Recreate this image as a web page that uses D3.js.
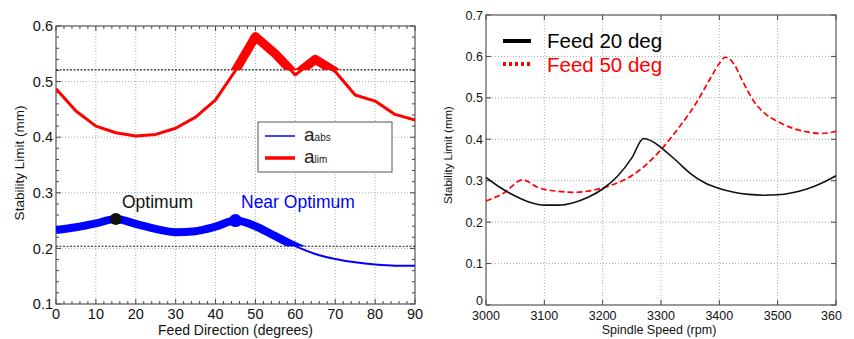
<!DOCTYPE html>
<html>
<head>
<meta charset="utf-8">
<script src="https://cdn.jsdelivr.net/npm/d3@7"></script>
<style>
  body { margin: 0; background: #fff; }
  text { font-family: "Liberation Sans", Arial, sans-serif; }
  .grid line { stroke: #aaa; stroke-dasharray: 1,2; stroke-width: 1; }
</style>
</head>
<body>
<svg id="chart" width="854" height="339"></svg>
<script>
// ---- left panel: stability limit vs feed direction
let feedDirs = [0, 5, 10, 15, 20, 25, 30, 35, 40, 45, 50, 55, 60, 65, 70, 75, 80, 85, 90];
let aLim = [0.487, 0.447, 0.420, 0.408, 0.402, 0.405, 0.416, 0.436, 0.467, 0.520, 0.581, 0.550, 0.512, 0.540, 0.518, 0.476, 0.465, 0.441, 0.431];
let aAbs = [0.233, 0.238, 0.245, 0.253, 0.244, 0.235, 0.229, 0.231, 0.239, 0.250, 0.240, 0.222, 0.204, 0.190, 0.181, 0.175, 0.171, 0.169, 0.169];
let limThreshold = 0.521;
let absThreshold = 0.204;
let optimum = {x: 15, y: 0.253, label: 'Optimum'};
let nearOptimum = {x: 45, y: 0.250, label: 'Near Optimum'};
let leftXTicks = [0, 10, 20, 30, 40, 50, 60, 70, 80, 90];
let leftYTicks = [0.1, 0.2, 0.3, 0.4, 0.5, 0.6];

// ---- right panel: stability limit vs spindle speed
let speeds20 = [3000, 3025, 3050, 3075, 3100, 3125, 3150, 3175, 3200, 3225, 3250, 3270, 3285, 3300, 3325, 3350, 3375, 3400, 3425, 3450, 3475, 3500, 3525, 3550, 3575, 3600];
let feed20 = [0.308, 0.283, 0.263, 0.248, 0.241, 0.241, 0.247, 0.260, 0.280, 0.310, 0.355, 0.402, 0.395, 0.380, 0.350, 0.318, 0.295, 0.281, 0.272, 0.267, 0.265, 0.266, 0.271, 0.280, 0.294, 0.312];
let speeds50 = [3000, 3030, 3063, 3090, 3120, 3150, 3180, 3210, 3240, 3270, 3300, 3330, 3360, 3385, 3400, 3410, 3425, 3440, 3460, 3480, 3500, 3525, 3550, 3575, 3600];
let feed50 = [0.251, 0.270, 0.302, 0.283, 0.275, 0.272, 0.276, 0.287, 0.304, 0.333, 0.375, 0.427, 0.487, 0.548, 0.583, 0.598, 0.582, 0.540, 0.490, 0.460, 0.443, 0.427, 0.418, 0.414, 0.419];
let rightXTicks = [3000, 3100, 3200, 3300, 3400, 3500, 3600];
let rightYTicks = [0, 0.1, 0.2, 0.3, 0.4, 0.5, 0.6, 0.7];

let svg = d3.select('#chart');
let defs = svg.append('defs');

function drawFrame(g, x, y, xt, yt, opts) {
  let [x0, x1] = x.range();
  let [y0, y1] = y.range();
  let grid = g.append('g').classed('grid', true);
  grid.selectAll('.vx').data(xt.slice(1, -1)).enter().append('line')
    .attr('x1', d => x(d)).attr('x2', d => x(d)).attr('y1', y0).attr('y2', y1);
  grid.selectAll('.hy').data(yt.slice(1, -1)).enter().append('line')
    .attr('y1', d => y(d)).attr('y2', d => y(d)).attr('x1', x0).attr('x2', x1);

  // inward ticks on all four sides
  let tk = g.append('g').attr('stroke', '#444').attr('stroke-width', 1);
  let mk = (vals, len) => {
    tk.selectAll(null).data(vals).enter().append('line')
      .attr('x1', d => x(d)).attr('x2', d => x(d)).attr('y1', y0).attr('y2', y0 - len);
    tk.selectAll(null).data(vals).enter().append('line')
      .attr('x1', d => x(d)).attr('x2', d => x(d)).attr('y1', y1).attr('y2', y1 + len);
  };
  let mky = (vals, len) => {
    tk.selectAll(null).data(vals).enter().append('line')
      .attr('y1', d => y(d)).attr('y2', d => y(d)).attr('x1', x0).attr('x2', x0 + len);
    tk.selectAll(null).data(vals).enter().append('line')
      .attr('y1', d => y(d)).attr('y2', d => y(d)).attr('x1', x1).attr('x2', x1 - len);
  };
  mk(xt, opts.tickLen); mky(yt, opts.tickLen);
  if (opts.minorX) mk(opts.minorX, opts.tickLen * 0.6);
  if (opts.minorY) mky(opts.minorY, opts.tickLen * 0.6);

  g.append('rect').attr('x', x0).attr('y', y1).attr('width', x1 - x0).attr('height', y0 - y1)
    .attr('fill', 'none').attr('stroke', '#555').attr('stroke-width', 1.2);

  g.selectAll(null).data(xt).enter().append('text')
    .classed('xtick', true)
    .attr('x', d => x(d)).attr('y', opts.xLabelY)
    .attr('text-anchor', 'middle').attr('font-size', opts.fsx).attr('fill', '#111')
    .text(opts.xfmt);
  g.selectAll(null).data(yt).enter().append('text')
    .classed('ytick', true)
    .attr('x', x0 - 3).attr('y', d => y(d) + opts.fsy * 0.36)
    .attr('text-anchor', 'end').attr('font-size', opts.fsy).attr('fill', '#111')
    .text(opts.yfmt);
}

// ===== left panel =====
let xL = d3.scaleLinear().domain([0, 90]).range([56, 415]);
let yL = d3.scaleLinear().domain([0.1, 0.6]).range([304, 26]);
let gL = svg.append('g');
drawFrame(gL, xL, yL, leftXTicks, leftYTicks, {
  tickLen: 5, fsx: 14.5, fsy: 14.5, xLabelY: 319,
  minorX: d3.range(0, 91, 2).filter(v => v % 10),
  minorY: d3.range(0, 26).map(i => 0.1 + i * 0.02).filter((v, i) => i % 5),
  xfmt: d => d, yfmt: d3.format('.1f')
});

// threshold lines
gL.selectAll(null).data([limThreshold, absThreshold]).enter().append('line')
  .attr('x1', xL(0)).attr('x2', xL(90)).attr('y1', d => yL(d)).attr('y2', d => yL(d))
  .attr('stroke', '#222').attr('stroke-width', 1.1).attr('stroke-dasharray', '2,1.5');

// clips: thick segments above each threshold
defs.append('clipPath').attr('id', 'clipLim').append('rect')
  .attr('x', xL(0)).attr('width', xL(90) - xL(0)).attr('y', yL(0.6) - 10).attr('height', yL(limThreshold) - yL(0.6) + 10);
defs.append('clipPath').attr('id', 'clipAbs').append('rect')
  .attr('x', xL(0)).attr('width', xL(90) - xL(0)).attr('y', yL(0.6)).attr('height', yL(absThreshold) - yL(0.6));
defs.append('clipPath').attr('id', 'clipL').append('rect')
  .attr('x', xL(0)).attr('width', xL(90) - xL(0)).attr('y', yL(0.6) - 10).attr('height', yL(0.1) - yL(0.6) + 10);

let limLine = d3.line().x((d, i) => xL(feedDirs[i])).y(d => yL(d));
let absLine = d3.line().x((d, i) => xL(feedDirs[i])).y(d => yL(d)).curve(d3.curveMonotoneX);

gL.append('path').attr('d', limLine(aLim)).attr('fill', 'none').attr('stroke', '#f00')
  .attr('stroke-width', 3).attr('stroke-linejoin', 'round').attr('clip-path', 'url(#clipL)');
gL.append('path').attr('d', limLine(aLim)).attr('fill', 'none').attr('stroke', '#f00')
  .attr('stroke-width', 9).attr('stroke-linejoin', 'round').attr('clip-path', 'url(#clipLim)');
gL.append('path').attr('d', absLine(aAbs)).attr('fill', 'none').attr('stroke', '#00f')
  .attr('stroke-width', 2).attr('clip-path', 'url(#clipL)');
gL.append('path').attr('d', absLine(aAbs)).attr('fill', 'none').attr('stroke', '#00f')
  .attr('stroke-width', 8).attr('clip-path', 'url(#clipAbs)');

gL.append('circle').attr('cx', xL(optimum.x)).attr('cy', yL(optimum.y)).attr('r', 6).attr('fill', '#111');
gL.append('circle').attr('cx', xL(nearOptimum.x)).attr('cy', yL(nearOptimum.y)).attr('r', 6.5).attr('fill', '#00f');
gL.append('text').attr('x', 122).attr('y', 208).attr('font-size', 17.5).attr('fill', '#111').text(optimum.label);
gL.append('text').attr('x', 241).attr('y', 208).attr('font-size', 17.5).attr('fill', '#00f').text(nearOptimum.label);

// legend
let legL = gL.append('g');
legL.append('rect').attr('x', 258).attr('y', 122).attr('width', 134).attr('height', 50)
  .attr('fill', '#fff').attr('stroke', '#555').attr('stroke-width', 1);
[['abs', '#00f', 1.5, 136], ['lim', '#f00', 3.5, 158]].forEach(([sub, col, w, yy]) => {
  legL.append('line').attr('x1', 265).attr('x2', 295).attr('y1', yy).attr('y2', yy)
    .attr('stroke', col).attr('stroke-width', w);
  let t = legL.append('text').attr('x', 304).attr('y', yy + 5).attr('fill', '#222');
  t.append('tspan').attr('font-size', 19).text('a');
  t.append('tspan').attr('font-size', 10).text(sub);
});

gL.append('text').attr('x', xL(45)).attr('y', 335).attr('text-anchor', 'middle')
  .attr('font-size', 14).attr('fill', '#111').text('Feed Direction (degrees)');
gL.append('text').attr('transform', 'translate(24,163) rotate(-90)')
  .attr('text-anchor', 'middle').attr('font-size', 13.5).attr('fill', '#111').text('Stability Limit (mm)');

// ===== right panel =====
let xR = d3.scaleLinear().domain([3000, 3600]).range([486, 836]);
let yR = d3.scaleLinear().domain([0, 0.7]).range([305, 15]);
let gR = svg.append('g');
drawFrame(gR, xR, yR, rightXTicks, rightYTicks, {
  tickLen: 5, fsx: 12.5, fsy: 12.5, xLabelY: 320,
  xfmt: d => d === 3600 ? '360' : d, yfmt: d => d === 0 ? '0' : d3.format('.1f')(d)
});
// the 3600 label is cut by the image edge in the reference
gR.selectAll('text.xtick').filter(d => d === 3600).attr('text-anchor', 'start').attr('x', 821);
// lift the "0" so it sits just above "3000"
gR.selectAll('text.ytick').filter(d => d === 0).attr('y', 305);

defs.append('clipPath').attr('id', 'clipR').append('rect')
  .attr('x', xR(3000)).attr('width', xR(3600) - xR(3000)).attr('y', yR(0.7)).attr('height', yR(0) - yR(0.7));

let l20 = d3.line().x((d, i) => xR(speeds20[i])).y(d => yR(d)).curve(d3.curveMonotoneX);
let l50 = d3.line().x((d, i) => xR(speeds50[i])).y(d => yR(d)).curve(d3.curveMonotoneX);
gR.append('path').attr('d', l50(feed50)).attr('fill', 'none').attr('stroke', '#f00')
  .attr('stroke-width', 1.7).attr('stroke-dasharray', '6,3').attr('clip-path', 'url(#clipR)');
gR.append('path').attr('d', l20(feed20)).attr('fill', 'none').attr('stroke', '#111')
  .attr('stroke-width', 1.6).attr('clip-path', 'url(#clipR)');

let legR = gR.append('g');
legR.append('line').attr('x1', 503).attr('x2', 531).attr('y1', 41).attr('y2', 41)
  .attr('stroke', '#000').attr('stroke-width', 4);
legR.append('line').attr('x1', 503).attr('x2', 531).attr('y1', 64).attr('y2', 64)
  .attr('stroke', '#f00').attr('stroke-width', 4).attr('stroke-dasharray', '3,3');
legR.append('text').attr('x', 547).attr('y', 48).attr('font-size', 20.5).attr('fill', '#000').text('Feed 20 deg');
legR.append('text').attr('x', 547).attr('y', 72).attr('font-size', 20.5).attr('fill', '#f00').text('Feed 50 deg');

gR.append('text').attr('x', 659).attr('y', 334).attr('text-anchor', 'middle')
  .attr('font-size', 12.5).attr('fill', '#111').text('Spindle Speed (rpm)');
gR.append('text').attr('transform', 'translate(452,155) rotate(-90)')
  .attr('text-anchor', 'middle').attr('font-size', 11.5).attr('fill', '#111').text('Stability Limit (mm)');
</script>
</body>
</html>
